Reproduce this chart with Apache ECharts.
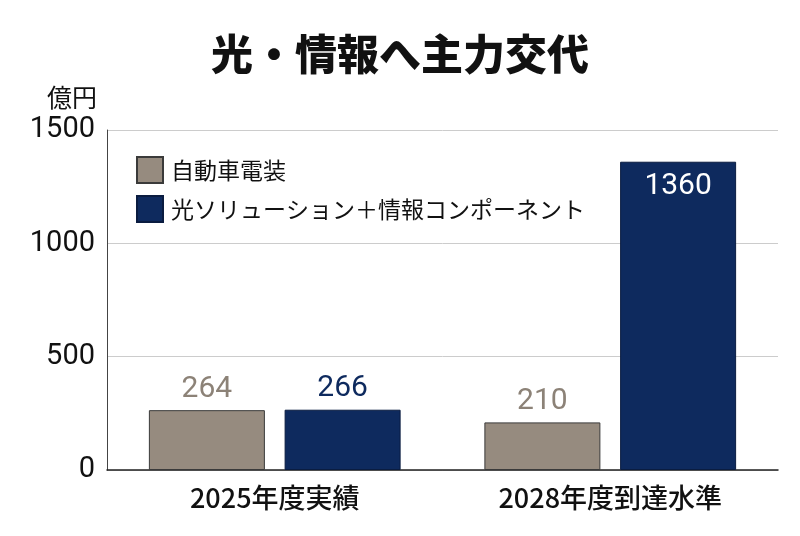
<!DOCTYPE html>
<html>
<head>
<meta charset="utf-8">
<script src="https://cdn.jsdelivr.net/npm/echarts@6/dist/echarts.min.js"></script>
<style>
  html, body { margin: 0; padding: 0; background: #fff; }
  #chart { width: 800px; height: 536px; }
</style>
</head>
<body>
<div id="chart"></div>
<script>
var categories = ['2025年度実績', '2028年度到達水準'];
var autoValues = [264, 210];
var opticalValues = [266, 1360];
var seriesNames = ['自動車電装', '光ソリューション＋情報コンポーネント'];
var yTicks = [0, 500, 1000, 1500];

var font = '"Noto Sans CJK JP", "Noto Sans", sans-serif';
var chart = echarts.init(document.getElementById('chart'));

var option = {
    backgroundColor: '#fff',
    title: {
        text: '光・情報へ主力交代',
        left: 'center',
        top: 28,
        textStyle: { fontFamily: font, fontSize: 42, fontWeight: 900, color: '#111' }
    },
    legend: {
        left: 131,
        top: 151,
        orient: 'vertical',
        icon: 'rect',
        itemWidth: 26,
        itemHeight: 26,
        itemGap: 11,
        textStyle: { fontFamily: font, fontSize: 23, color: '#111', padding: [0, 0, 0, 3] },
        data: seriesNames
    },
    grid: { left: 107, right: 22, top: 130, bottom: 66 },
    xAxis: {
        type: 'category',
        data: categories,
        axisLine: { lineStyle: { color: '#222', width: 1.5 } },
        axisTick: { show: false },
        axisLabel: { fontFamily: font, fontSize: 27, fontWeight: 500, color: '#111', margin: 14 }
    },
    yAxis: {
        type: 'value',
        min: yTicks[0],
        max: yTicks[yTicks.length - 1],
        interval: 500,
        name: '億円',
        nameLocation: 'end',
        nameGap: 20,
        nameTextStyle: { fontFamily: font, fontSize: 25, color: '#111', align: 'right', padding: [0, 10, 0, 0] },
        axisLine: { show: true, lineStyle: { color: '#444', width: 1 } },
        axisTick: { show: false },
        axisLabel: {
            fontFamily: '"Roboto", sans-serif',
            fontSize: 29,
            color: '#111',
            margin: 12,
            formatter: function (v) { return String(v); }
        },
        splitLine: { lineStyle: { color: '#ccc', width: 1 } }
    },
    series: [
        {
            name: seriesNames[0],
            type: 'bar',
            data: autoValues,
            barWidth: 116,
            barGap: '17%',
            itemStyle: { color: '#968b7f', borderColor: '#3a3a3a', borderWidth: 1 },
            label: {
                show: true,
                position: 'top',
                distance: 6,
                fontFamily: '"Roboto", sans-serif',
                fontSize: 30,
                color: '#8c8277'
            }
        },
        {
            name: seriesNames[1],
            type: 'bar',
            data: opticalValues.map(function (v, i) {
                if (i === 1) {
                    return {
                        value: v,
                        label: { position: 'insideTop', distance: 10, color: '#fff' }
                    };
                }
                return v;
            }),
            barWidth: 116,
            itemStyle: { color: '#0e2a5e', borderColor: '#0a1c40', borderWidth: 1 },
            label: {
                show: true,
                position: 'top',
                distance: 6,
                fontFamily: '"Roboto", sans-serif',
                fontSize: 30,
                color: '#0e2a5e'
            }
        }
    ]
};

chart.setOption(option);
</script>
</body>
</html>
